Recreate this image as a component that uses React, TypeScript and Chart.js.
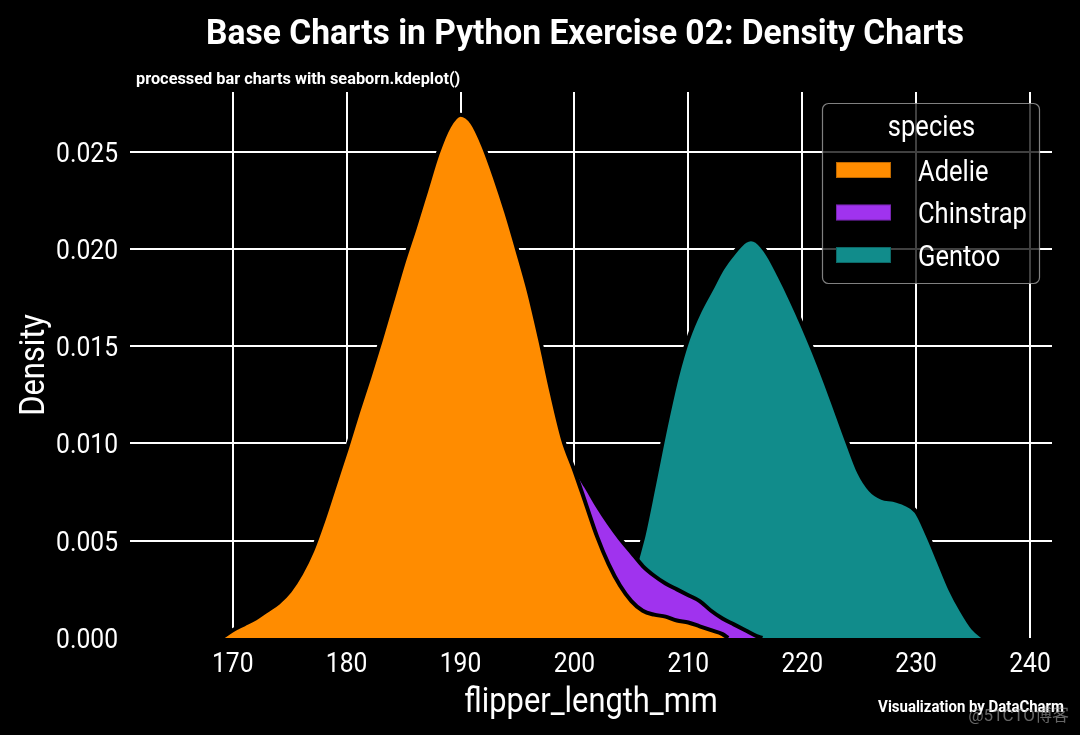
import React, { useEffect, useRef } from 'react';
import { Chart, registerables } from 'chart.js';

Chart.register(...registerables);

// ---------- data ----------
const SPECIES = ['Adelie', 'Chinstrap', 'Gentoo'];
const COLORS = ['#FF8C00', '#A033EE', '#118C8B'];

const ADELIE_X = [169, 170, 171, 172, 173, 174, 175, 176, 177, 178, 179, 180, 181, 182, 183, 184, 185, 186, 187, 188, 189, 190, 191, 192, 193, 194, 195, 196, 197, 198, 199, 200, 201, 202, 203, 204, 205, 206, 207, 208, 209, 210, 211, 212, 213, 213.5];
const ADELIE_Y = [0.0000, 0.0004, 0.0007, 0.0010, 0.0014, 0.0018, 0.0024, 0.0033, 0.0045, 0.0061, 0.0079, 0.0097, 0.0116, 0.0134, 0.0153, 0.0173, 0.0193, 0.0211, 0.0230, 0.0249, 0.0263, 0.0269, 0.0265, 0.0253, 0.0237, 0.0219, 0.0199, 0.0178, 0.0153, 0.0126, 0.0102, 0.0086, 0.0069, 0.0052, 0.0038, 0.0027, 0.0019, 0.0014, 0.0012, 0.0011, 0.0009, 0.0008, 0.0006, 0.0004, 0.0002, 0.0000];

const CHINSTRAP_X = [173.5, 175, 177, 179, 181, 183, 185, 187, 189, 191, 193, 195, 197, 198, 199, 200, 201, 202, 203, 204, 205, 206, 207, 208, 209, 210, 211, 212, 213, 214, 215, 216, 216.5];
const CHINSTRAP_Y = [0.0000, 0.0001, 0.0003, 0.0007, 0.0014, 0.0024, 0.0036, 0.0050, 0.0064, 0.0077, 0.0088, 0.0095, 0.0097, 0.0095, 0.0092, 0.0087, 0.0078, 0.0068, 0.0059, 0.0051, 0.0044, 0.0037, 0.0032, 0.0028, 0.0025, 0.0022, 0.0019, 0.0014, 0.0010, 0.0007, 0.0004, 0.0001, 0.0000];

const GENTOO_X = [200.5, 201, 202, 203, 204, 205, 206, 207, 208, 209, 210, 211, 212, 213, 214, 215, 215.5, 216, 217, 218, 219, 220, 221, 222, 223, 224, 225, 226, 227, 228, 229, 230, 231, 232, 233, 234, 235, 236];
const GENTOO_Y = [0.0000, 0.0001, 0.0004, 0.0009, 0.0017, 0.0031, 0.0051, 0.0079, 0.0108, 0.0134, 0.0154, 0.0168, 0.0179, 0.0190, 0.0198, 0.0204, 0.0205, 0.0204, 0.0197, 0.0186, 0.0174, 0.0161, 0.0147, 0.0132, 0.0116, 0.0100, 0.0085, 0.0076, 0.0072, 0.0071, 0.0069, 0.0065, 0.0053, 0.0039, 0.0025, 0.0014, 0.0005, 0.0000];

const X_TICKS = [170, 180, 190, 200, 210, 220, 230, 240];
const Y_TICKS = [0, 0.005, 0.01, 0.015, 0.02, 0.025];

const TITLE = 'Base Charts in Python Exercise 02: Density Charts';
const SUBTITLE = 'processed bar charts with seaborn.kdeplot()';
const X_TITLE = 'flipper_length_mm';
const Y_TITLE = 'Density';
const LEGEND_TITLE = 'species';
const CAPTION = 'Visualization by DataCharm';
const WATERMARK = '@51CTO博客';

// ---------- text helper ----------
const COND = 0.88;
function drawText(
  ctx: CanvasRenderingContext2D,
  text: string,
  x: number,
  y: number,
  size: number,
  weight: number,
  color: string,
  align: CanvasTextAlign = 'left',
  rotate = 0,
  cond = COND
) {
  ctx.save();
  ctx.translate(x, y);
  if (rotate) ctx.rotate(rotate);
  ctx.scale(cond, 1);
  ctx.font = `${weight} ${size}px Roboto, 'Noto Sans CJK SC', sans-serif`;
  ctx.fillStyle = color;
  ctx.textAlign = align;
  ctx.textBaseline = 'alphabetic';
  ctx.fillText(text, 0, 0);
  ctx.restore();
}

const decorPlugin = {
  id: 'decor',
  afterDraw(chart: any) {
    const { ctx, chartArea } = chart;
    const xs = chart.scales.x;
    const ys = chart.scales.y;
    // tick labels
    X_TICKS.forEach((v) =>
      drawText(ctx, String(v), xs.getPixelForValue(v), chartArea.bottom + 33.5, 28, 400, '#ffffff', 'center')
    );
    Y_TICKS.forEach((v) =>
      drawText(ctx, v.toFixed(3), chartArea.left - 12, ys.getPixelForValue(v) + 10, 28, 400, '#ffffff', 'right')
    );
    // axis titles
    drawText(ctx, X_TITLE, (chartArea.left + chartArea.right) / 2, 711.5, 35, 400, '#ffffff', 'center');
    drawText(ctx, Y_TITLE, 43.5, (chartArea.top + chartArea.bottom) / 2, 35, 400, '#ffffff', 'center', -Math.PI / 2);
    // title / subtitle / caption
    drawText(ctx, TITLE, (chartArea.left + chartArea.right) / 2 - 6, 43.5, 35, 700, '#ffffff', 'center', 0, 0.96);
    drawText(ctx, SUBTITLE, 136, 83.5, 17, 700, '#ffffff', 'left', 0, 0.96);
    drawText(ctx, CAPTION, 1064, 712, 17, 700, '#ffffff', 'right');
    drawText(ctx, WATERMARK, 1069, 721, 17, 400, 'rgba(170,170,170,0.6)', 'right', 0, 1);

    // legend
    ctx.save();
    ctx.beginPath();
    (ctx as any).roundRect(822.5, 103.5, 217, 180, 6);
    ctx.fillStyle = 'rgba(0,0,0,0.75)';
    ctx.fill();
    ctx.strokeStyle = 'rgba(150,150,150,0.85)';
    ctx.lineWidth = 1.2;
    ctx.stroke();
    ctx.restore();
    drawText(ctx, LEGEND_TITLE, 931.5, 136, 29, 400, '#ffffff', 'center');
    const rows = [170, 212.5, 255];
    chart.data.datasets.forEach((ds: any, i: number) => {
      const cy = rows[i];
      ctx.save();
      ctx.fillStyle = ds.backgroundColor;
      ctx.fillRect(836, cy - 8, 55, 16);
      ctx.strokeStyle = 'rgba(0,0,0,0.25)';
      ctx.lineWidth = 1;
      ctx.strokeRect(836.5, cy - 7.5, 54, 15);
      ctx.restore();
      drawText(ctx, ds.label, 918, cy + 10.5, 29, 400, '#ffffff', 'left');
    });
  },
};

function series(xs: number[], ys: number[]) {
  return xs.map((x, i) => ({ x, y: ys[i] }));
}

export default function App() {
  const ref = useRef<HTMLCanvasElement | null>(null);

  useEffect(() => {
    document.body.style.background = '#000';
    const canvas = ref.current!;
    const xsAll = [ADELIE_X, CHINSTRAP_X, GENTOO_X];
    const ysAll = [ADELIE_Y, CHINSTRAP_Y, GENTOO_Y];
    const chart = new Chart(canvas, {
      type: 'line',
      data: {
        datasets: SPECIES.map((s, i) => ({
          label: s,
          data: series(xsAll[i], ysAll[i]),
          backgroundColor: COLORS[i],
          borderColor: '#000000',
          borderWidth: 4,
          fill: 'origin',
          pointRadius: 0,
          cubicInterpolationMode: 'monotone',
          clip: false,
        })),
      },
      options: {
        animation: false,
        responsive: false,
        maintainAspectRatio: false,
        layout: { padding: { top: 92, left: 0, right: 28, bottom: 0 } },
        plugins: { legend: { display: false }, tooltip: { enabled: false }, title: { display: false } },
        scales: {
          x: {
            type: 'linear',
            min: 160.98,
            max: 241.93,
            afterBuildTicks: (s: any) => {
              s.ticks = X_TICKS.map((v) => ({ value: v }));
            },
            afterFit: (s: any) => {
              s.height = 97;
            },
            ticks: { display: false },
            grid: { color: '#ffffff', lineWidth: 2, drawTicks: false },
            border: { display: false },
          },
          y: {
            type: 'linear',
            min: 0,
            max: 0.02807,
            afterBuildTicks: (s: any) => {
              s.ticks = Y_TICKS.map((v) => ({ value: v }));
            },
            afterFit: (s: any) => {
              s.width = 130;
            },
            ticks: { display: false },
            grid: {
              color: (c: any) => (c.tick && c.tick.value === 0 ? 'rgba(0,0,0,0)' : '#ffffff'),
              lineWidth: 2,
              drawTicks: false,
            },
            border: { display: false },
          },
        },
      },
      plugins: [decorPlugin],
    } as any);
    return () => chart.destroy();
  }, []);

  return (
    <div style={{ position: 'fixed', left: 0, top: 0, width: 1080, height: 735, background: '#000' }}>
      <canvas ref={ref} width={1080} height={735} style={{ display: 'block' }} />
    </div>
  );
}
